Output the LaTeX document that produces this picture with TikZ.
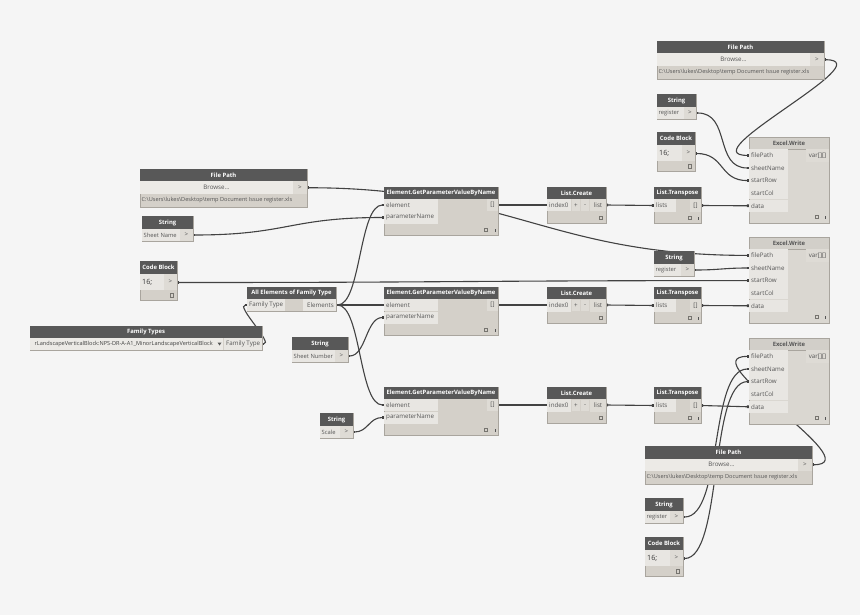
\documentclass[tikz,border=0pt]{standalone}
\usepackage{fontspec}
\setmainfont{Open Sans}
\usetikzlibrary{arrows.meta}
\definecolor{bgc}{HTML}{F5F5F5}
\definecolor{hdrc}{HTML}{585858}
\definecolor{bodyc}{HTML}{D4D0C9}
\definecolor{portc}{HTML}{E8E6E2}
\definecolor{btnc}{HTML}{DEDBD5}
\definecolor{edgec}{HTML}{A9A59E}
\definecolor{txtc}{HTML}{555555}
\definecolor{wirec}{HTML}{424242}
\definecolor{ewhc}{HTML}{D2CFC9}
\definecolor{ewbc}{HTML}{DAD7D1}
\definecolor{browc}{HTML}{ECEAE6}
\pgfdeclarelayer{bglayer}
\pgfdeclarelayer{wirelayer}
\pgfsetlayers{bglayer,wirelayer,main}
\newcommand\hdrfont{\fontsize{5.9}{6.5}\selectfont\bfseries}
\newcommand\portfont{\fontsize{6.2}{7}\selectfont}
\newcommand\strfont{\fontsize{5.8}{6.5}\selectfont}
\newcommand\pathfont{\fontsize{5.6}{6.5}\selectfont}
\tikzset{
  ttl/.style={text=white,font=\hdrfont,inner sep=0pt},
  ttld/.style={text=txtc,font=\hdrfont,inner sep=0pt},
  plbl/.style={text=txtc,font=\portfont,inner sep=0pt,anchor=west},
  clbl/.style={text=txtc,font=\portfont,inner sep=0pt},
  cbtxt/.style={text=black!80,font=\fontsize{7.2}{8}\selectfont,inner sep=0pt,anchor=west},
  wire/.style={draw=wirec,line width=1.1pt,{Square[length=2.2pt,width=2.8pt]}-{Square[length=2.2pt,width=2.8pt]}},
  nbody/.style={fill=bodyc,draw=edgec,line width=0.5pt},
}
\newcommand\Nbody[4]{\filldraw[nbody] (#1,#2) rectangle (#3,#4);}
\newcommand\Nhead[6]{\fill[hdrc] (#2,#3) rectangle (#4,#5); \node[ttl] (#1) at ({(#2+#4)/2},{(#3+#5)/2}) {#6};}
\newcommand\Nfield[6]{\fill[portc] (#2,#3) rectangle (#4,#5); \node[plbl] (#1) at ({#2+2},{(#3+#5)/2}) {#6};}
\newcommand\Nbtn[6]{\fill[btnc] (#2,#3) rectangle (#4,#5); \node[clbl] (#1) at ({(#2+#4)/2},{(#3+#5)/2}) {#6};}
\newcommand\Nsq[2]{\draw[edgec!70!black,line width=0.4pt] (#1,#2) rectangle ({#1+3.5},{#2+3.5});}
\newcommand\Ntick[2]{\draw[txtc,line width=0.5pt] (#1,{#2+1}) -- (#1,{#2+3.5});}
% Element.GetParameterValueByName
\newcommand\EGP[2]{%
  \Nbody{384}{#2}{498}{#2+48}
  \Nhead{#1}{384}{#2}{498}{#2+12}{Element.GetParameterValueByName}
  \Nfield{#1el}{384}{#2+12}{438}{#2+24}{element}
  \Nfield{#1pl}{384}{#2+24.5}{438}{#2+36.5}{parameterName}
  \Nbtn{#1ol}{487}{#2+12}{498}{#2+24}{[]}
  \coordinate (#1e) at (384,#2+18);
  \coordinate (#1p) at (384,#2+30.5);
  \coordinate (#1o) at (498,#2+18);
  \Nsq{484}{#2+41}\Ntick{495}{#2+41}}
% List.Create
\newcommand\LCR[2]{%
  \Nbody{547}{#2}{606}{#2+36}
  \Nhead{#1}{547}{#2}{606}{#2+12}{List.Create}
  \Nfield{#1il}{547}{#2+12}{571}{#2+24.5}{index0}
  \Nbtn{#1pb}{572}{#2+12.5}{580}{#2+24}{+}
  \Nbtn{#1mb}{581}{#2+12.5}{589}{#2+24}{-}
  \Nbtn{#1ol}{590}{#2+12}{606}{#2+24.5}{list}
  \coordinate (#1i) at (547,#2+18);
  \coordinate (#1o) at (606,#2+18);
  \Nsq{599}{#2+29}}
% List.Transpose
\newcommand\LTR[2]{%
  \Nbody{654}{#2}{701}{#2+36}
  \Nhead{#1}{654}{#2}{701}{#2+12}{List.Transpose}
  \Nfield{#1il}{654}{#2+12}{676}{#2+25}{lists}
  \Nbtn{#1ol}{690}{#2+12}{701}{#2+25}{[]}
  \coordinate (#1i) at (654,#2+18.5);
  \coordinate (#1o) at (701,#2+18.5);
  \Nsq{688}{#2+29}\Ntick{698}{#2+29}}
% Excel.Write
\newcommand\EXW[2]{%
  \filldraw[fill=ewbc,draw=edgec,line width=0.5pt] (749,#2) rectangle (829,#2+86);
  \filldraw[fill=ewhc,draw=edgec,line width=0.5pt] (749,#2) rectangle (829,#2+12);
  \node[ttld] (#1) at (789,#2+6) {Excel.Write};
  \Nfield{#1al}{749}{#2+12.2}{788}{#2+24.6}{filePath}
  \Nfield{#1bl}{749}{#2+24.8}{788}{#2+37.2}{sheetName}
  \Nfield{#1cl}{749}{#2+37.4}{788}{#2+49.8}{startRow}
  \Nfield{#1dl}{749}{#2+50}{788}{#2+62.4}{startCol}
  \Nfield{#1el}{749}{#2+62.6}{788}{#2+75}{data}
  \Nbtn{#1ol}{806}{#2+12.2}{829}{#2+24.6}{var[][]}
  \coordinate (#1a) at (749,#2+18.4);
  \coordinate (#1b) at (749,#2+31);
  \coordinate (#1c) at (749,#2+43.6);
  \coordinate (#1d) at (749,#2+56.2);
  \coordinate (#1e) at (749,#2+68.8);
  \Nsq{815}{#2+78}\Ntick{825}{#2+78}}
% String
\newcommand\STR[6]{%
  \Nbody{#2}{#3}{#4}{#3+25}
  \Nhead{#1}{#2}{#3}{#4}{#3+13}{String}
  \fill[portc] (#2,#3+13) rectangle (#5,#3+25);
  \node[plbl,font=\strfont] (#1t) at ({#2+1.5},#3+19) {#6};
  \Nbtn{#1b}{#5}{#3+13}{#4}{#3+25}{>}
  \coordinate (#1o) at (#4,#3+19);}
% Code Block
\newcommand\CBK[5]{%
  \Nbody{#2}{#3}{#4}{#3+39}
  \Nhead{#1}{#2}{#3}{#4}{#3+13}{Code Block}
  \fill[portc] (#2,#3+13) rectangle (#5,#3+29);
  \node[cbtxt] (#1t) at (#2+2,#3+21) {16;};
  \Nbtn{#1b}{#5}{#3+13}{#4}{#3+29}{>}
  \coordinate (#1o) at (#4,#3+21.5);
  \Nsq{#4-7}{#3+32.5}}
% File Path
\newcommand\FPT[3]{%
  \Nbody{#2}{#3}{#2+167}{#3+38}
  \Nhead{#1}{#2}{#3}{#2+167}{#3+12.5}{File Path}
  \fill[browc] (#2,#3+12.5) rectangle (#2+153,#3+25);
  \node[clbl] (#1w) at (#2+76.5,#3+18.75) {Browse...};
  \Nbtn{#1b}{#2+153}{#3+12.5}{#2+167}{#3+25}{>}
  \node[plbl,font=\pathfont] (#1p) at (#2+1.5,#3+31.5) {C:\textbackslash Users\textbackslash lukes\textbackslash Desktop\textbackslash temp Document Issue register.xls};
  \coordinate (#1o) at (#2+167,#3+18.75);}
\begin{document}
\begin{tikzpicture}[x=1pt,y=-1pt]
\begin{pgfonlayer}{bglayer}
\fill[bgc] (0,0) rectangle (860,615);
\end{pgfonlayer}
\useasboundingbox (0,0) rectangle (860,615);
% ---- nodes ----
\FPT{fpL}{140}{169}
\STR{sns}{142}{216}{193}{180}{Sheet Name}
\CBK{cbL}{140}{261}{177}{164}
\FPT{fpT}{657}{41}
\STR{rgT}{657}{94}{696}{684}{register}
\CBK{cbT}{657}{132}{695}{682}
\EGP{egpA}{187}
\EGP{egpB}{287}
\EGP{egpC}{387}
\LCR{lcA}{187}
\LCR{lcB}{287}
\LCR{lcC}{387}
\LTR{ltA}{187}
\LTR{ltB}{287}
\LTR{ltC}{387}
\EXW{ewA}{137}
\EXW{ewB}{237}
\EXW{ewC}{338}
\STR{rgM}{654}{251}{694}{681}{register}
\STR{snum}{292}{337}{348}{335}{Sheet Number}
\STR{sca}{320}{413}{353}{340}{Scale}
\FPT{fpB}{645}{446}
\STR{rgB}{645}{498}{683}{670}{register}
\CBK{cbB}{645}{537}{683}{670}
% All Elements of Family Type
\Nbody{247}{287}{336}{311}
\Nhead{ael}{247}{287}{336}{299}{All Elements of Family Type}
\Nfield{aelin}{247}{299}{285}{311}{Family Type}
\fill[portc] (303,299) rectangle (336,311);
\node[plbl,anchor=east] (aelout) at (334,305) {Elements};
\coordinate (aeli) at (247,305);
\coordinate (aelo) at (336,305);
% Family Types
\Nbody{30}{326}{262}{350}
\Nhead{fty}{30}{326}{262}{338}{Family Types}
\fill[browc] (30,338) rectangle (223,350);
\begin{scope}
\clip (30,338) rectangle (223,350);
\node[plbl,anchor=east,text=black!75,font=\pathfont] (ftysel) at (213,344) {rLandscapeVerticalBlock:NPS-DR-A-A1\_MinorLandscapeVerticalBlock};
\end{scope}
\fill[txtc] (217.5,342.5) -- (221.5,342.5) -- (219.5,345.5) -- cycle;
\Nfield{ftyl}{224}{338}{262}{350}{Family Type}
\coordinate (ftyo) at (262,344);
% ---- wires ----
\begin{pgfonlayer}{wirelayer}
\draw[wire] (fpLo) .. controls +(200,0) and +(-200,0) .. (ewBa);
\draw[wire] (snso) .. controls +(95,0) and +(-95,0) .. (egpAp);
\draw[wire] (cbLo) .. controls +(280,0) and +(-280,0) .. (ewBc);
\draw[wire] (aelo) .. controls +(25,0) and +(-25,0) .. (egpAe);
\draw[wire] (aelo) -- (egpBe);
\draw[wire] (aelo) .. controls +(25,0) and +(-25,0) .. (egpCe);
\draw[wire] (ftyo) .. controls +(12,0) and +(-12,0) .. (aeli);
\draw[wire] (snumo) .. controls +(18,0) and +(-18,0) .. (egpBp);
\draw[wire] (scao) .. controls +(15,0) and +(-15,0) .. (egpCp);
\draw[wire] (egpAo) -- (lcAi);
\draw[wire] (lcAo) -- (ltAi);
\draw[wire] (ltAo) -- (ewAe);
\draw[wire] (egpBo) -- (lcBi);
\draw[wire] (lcBo) -- (ltBi);
\draw[wire] (ltBo) -- (ewBe);
\draw[wire] (egpCo) -- (lcCi);
\draw[wire] (lcCo) -- (ltCi);
\draw[wire] (ltCo) -- (ewCe);
\draw[wire] (fpTo) .. controls +(60,0) and +(-60,0) .. (ewAa);
\draw[wire] (rgTo) .. controls +(35,0) and +(-35,0) .. (ewAb);
\draw[wire] (cbTo) .. controls +(30,0) and +(-30,0) .. (ewAc);
\draw[wire] (rgMo) .. controls +(25,0) and +(-25,0) .. (ewBb);
\draw[wire] (fpBo) .. controls +(60,0) and +(-60,0) .. (ewCa);
\draw[wire] (rgBo) .. controls +(40,0) and +(-40,0) .. (ewCb);
\draw[wire] (cbBo) .. controls +(40,0) and +(-40,0) .. (ewCc);
\end{pgfonlayer}
\end{tikzpicture}
\end{document}
